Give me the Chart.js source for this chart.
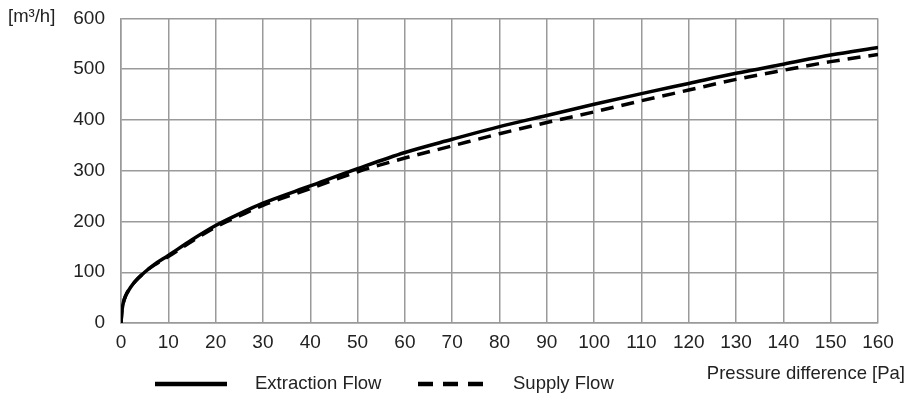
<!DOCTYPE html>
<html>
<head>
<meta charset="utf-8">
<script src="https://cdn.jsdelivr.net/npm/chart.js@4"></script>
<style>
  html, body { margin: 0; padding: 0; background: #fff; }
  #wrap { width: 908px; height: 400px; }
</style>
</head>
<body>
<div id="wrap"><canvas id="flowChart" width="908" height="400"></canvas></div>
<script>
// Flow vs pressure difference
const pressure   = [0, 0.2, 0.5, 1, 2, 3, 5, 7, 10, 15, 20, 25, 30, 40, 50, 60, 70, 80, 90, 100, 110, 120, 130, 140, 150, 160];
const extraction = [0, 24, 40, 54, 70, 82, 100, 115, 133, 164, 192, 215, 236, 270, 304, 336, 362, 387, 409, 431, 452, 472, 492, 510, 528, 543];
const supply     = [0, 24, 40, 54, 70, 82, 100, 114, 131, 161, 189, 211, 232, 265, 298, 325, 349, 373, 395, 416, 438, 459, 480, 498, 515, 529];

const seriesNames = ['Extraction Flow', 'Supply Flow'];
const yUnit = '[m\u00b3/h]';
const xTitle = 'Pressure difference [Pa]';

const textColor = '#222';
const gridColor = '#9a9a9a';
const fontFamily = '"Liberation Sans", Arial, sans-serif';

function toPoints(ys) {
    return pressure.map((x, i) => ({ x: x, y: ys[i] }));
}

// draws unit label, axis title and the legend underneath
const extrasPlugin = {
    id: 'extras',
    afterDraw(chart) {
        const c = chart.ctx;
        c.save();
        c.fillStyle = textColor;
        c.textBaseline = 'middle';

        c.font = '18.5px ' + fontFamily;
        c.textAlign = 'left';
        c.fillText(yUnit, 8, 17);

        c.textAlign = 'right';
        c.fillText(xTitle, 905, 374);

        // legend
        const items = [
            { x1: 155, x2: 227, tx: 255, ds: chart.data.datasets[0] },
            { x1: 418, x2: 493, tx: 513, ds: chart.data.datasets[1] }
        ];
        const ly = 384;
        items.forEach(it => {
            c.beginPath();
            c.strokeStyle = it.ds.borderColor;
            c.lineWidth = 4.5;
            c.setLineDash(it.ds.borderDash.length ? [15, 10] : []);
            c.moveTo(it.x1, ly);
            c.lineTo(it.x2, ly);
            c.stroke();
            c.setLineDash([]);
            c.textAlign = 'left';
            c.fillText(it.ds.label, it.tx, ly);
        });
        c.restore();
    }
};

new Chart(document.getElementById('flowChart'), {
    type: 'line',
    data: {
        datasets: [
            {
                label: seriesNames[0],
                data: toPoints(extraction),
                borderColor: '#000',
                borderWidth: 3.5,
                borderDash: [],
                pointRadius: 0,
                cubicInterpolationMode: 'monotone',
                fill: false
            },
            {
                label: seriesNames[1],
                data: toPoints(supply),
                borderColor: '#000',
                borderWidth: 3.5,
                borderDash: [13, 8],
                pointRadius: 0,
                cubicInterpolationMode: 'monotone',
                fill: false
            }
        ]
    },
    options: {
        responsive: false,
        animation: false,
        layout: { padding: { top: 18.5, right: 30, left: 0, bottom: 0 } },
        scales: {
            x: {
                type: 'linear',
                min: 0,
                max: 160,
                ticks: {
                    stepSize: 10,
                    padding: 10,
                    color: textColor,
                    font: { family: fontFamily, size: 19, lineHeight: 1 },
                    maxRotation: 0
                },
                grid: { color: gridColor, lineWidth: 1.5, drawTicks: false },
                border: { color: gridColor, width: 1.5 },
                afterFit(scale) { scale.height = 77; }
            },
            y: {
                min: 0,
                max: 600,
                ticks: {
                    stepSize: 100,
                    padding: 16,
                    color: textColor,
                    font: { family: fontFamily, size: 19, lineHeight: 1 }
                },
                grid: { color: gridColor, lineWidth: 1.5, drawTicks: false },
                border: { color: gridColor, width: 1.5 },
                afterFit(scale) {
                    // keep the plot top where the reference has it
                    scale.width = 121;
                    scale.paddingTop = 0;
                    scale.paddingBottom = 0;
                }
            }
        },
        plugins: {
            legend: { display: false },
            tooltip: { enabled: false }
        }
    },
    plugins: [extrasPlugin]
});
</script>
</body>
</html>
